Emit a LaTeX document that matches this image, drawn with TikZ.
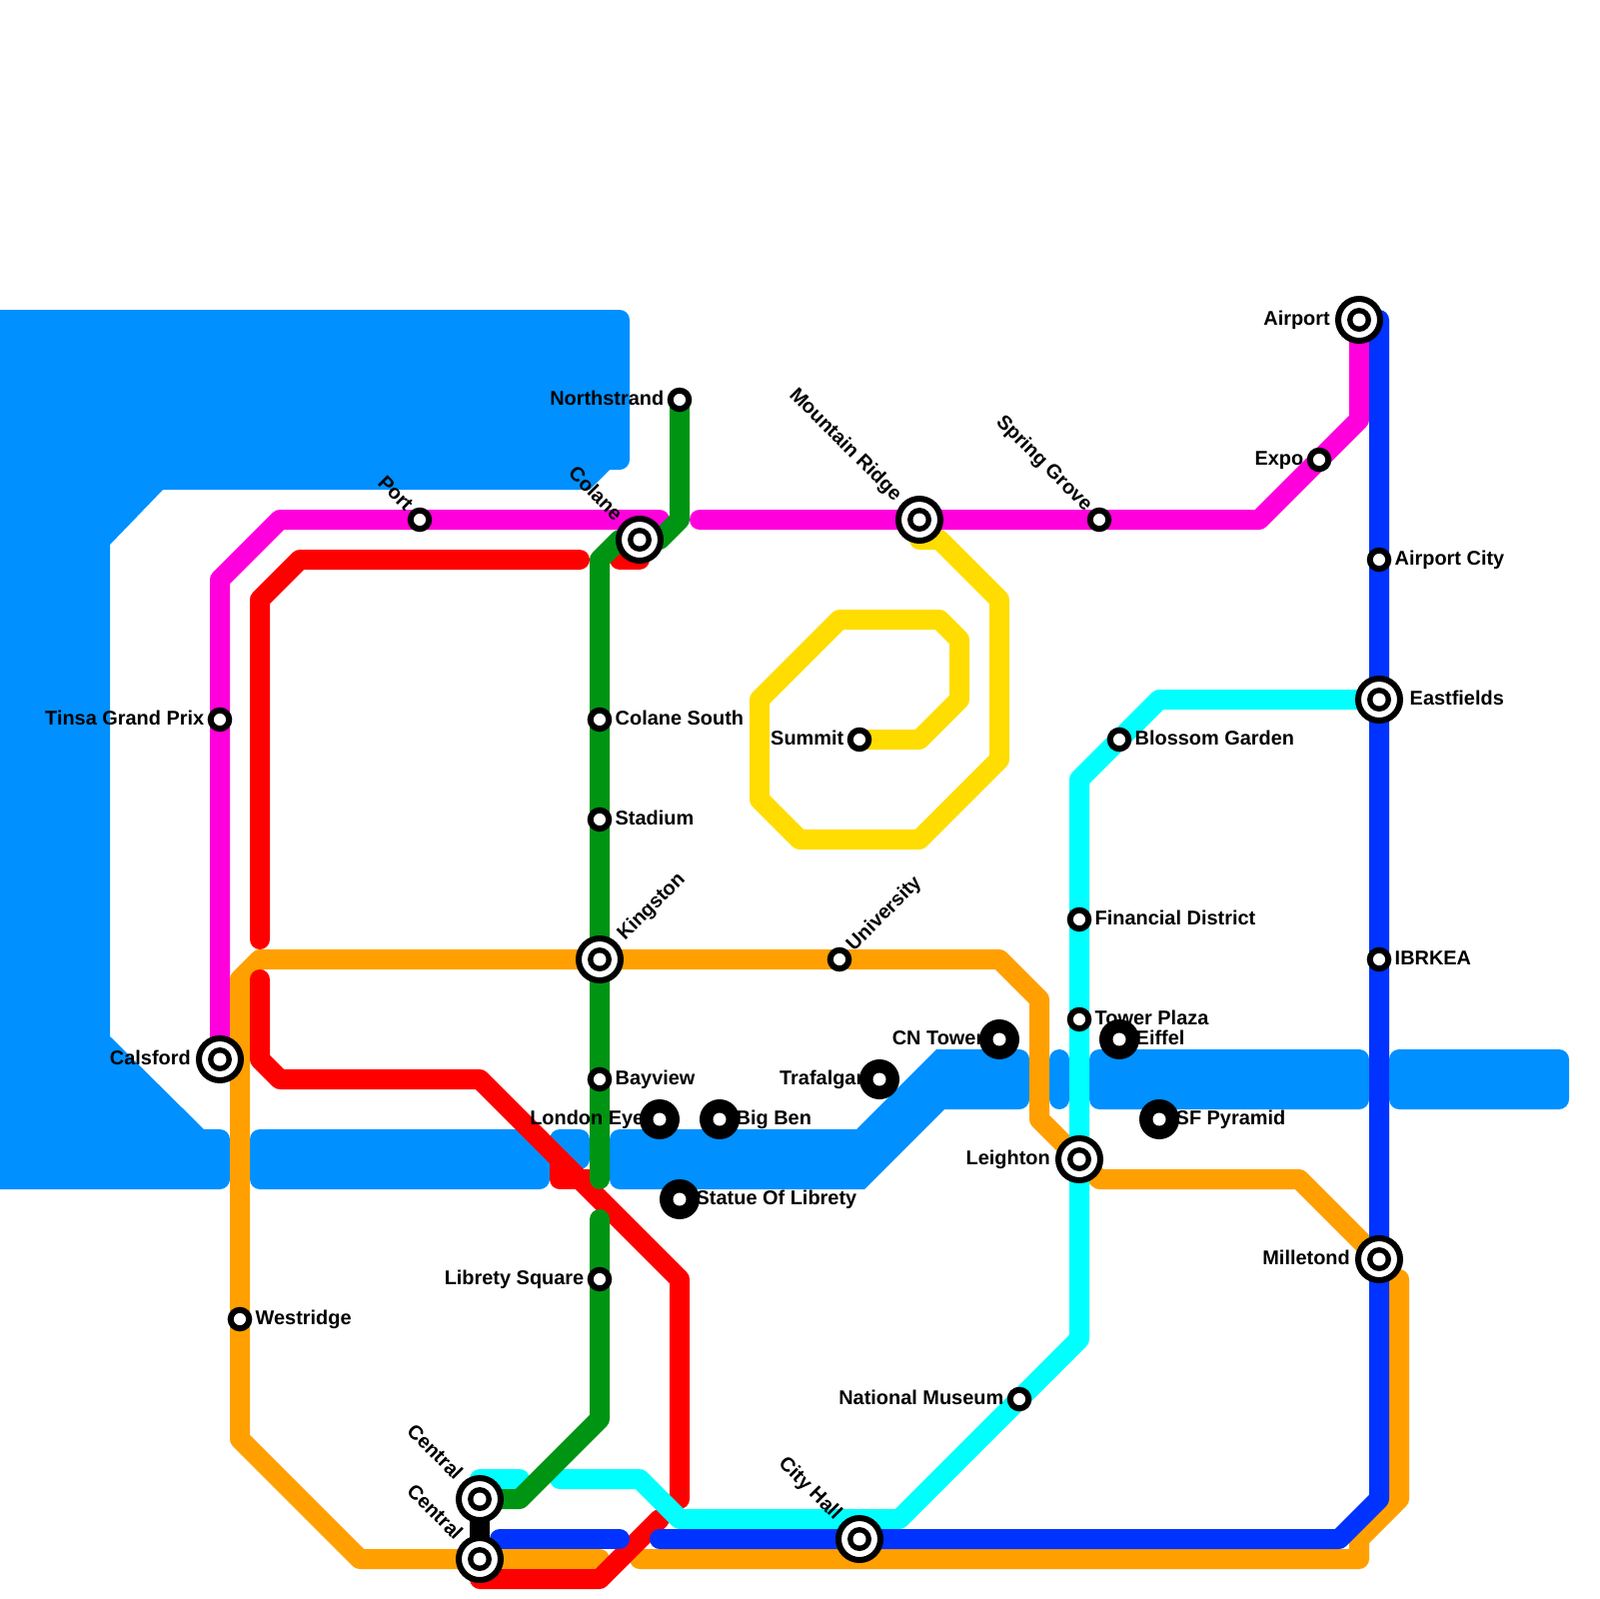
\documentclass[tikz,border=0pt]{standalone}
\usepackage{fontspec}
\setmainfont{Liberation Sans}
\usetikzlibrary{positioning,backgrounds}
\definecolor{waterblue}{HTML}{0090FF}
\definecolor{linepink}{HTML}{FF00DC}
\definecolor{linered}{HTML}{FF0000}
\definecolor{lineorange}{HTML}{FFA000}
\definecolor{linegreen}{HTML}{009413}
\definecolor{linecyan}{HTML}{00FFFF}
\definecolor{lineblue}{HTML}{0033FF}
\definecolor{lineyellow}{HTML}{FFDD00}
\begin{document}
\begin{tikzpicture}[
  x=0.1mm,y=-0.1mm,
  node distance=1.45mm and 1.5mm,
  water/.style={fill=waterblue},
  route/.style={line width=2mm,line cap=round,line join=round},
  stn/.style={circle,draw=black,line width=.6mm,fill=white,minimum size=1.85mm,inner sep=0},
  inter/.style={circle,draw=black,line width=.6mm,fill=white,minimum size=4.2mm,inner sep=0,
    path picture={\fill[black] (path picture bounding box.center) circle (1.2mm);
      \fill[white] (path picture bounding box.center) circle (.65mm);}},
  sight/.style={circle,fill=black,minimum size=4mm,inner sep=0,
    path picture={\fill[white] (path picture bounding box.center) circle (.65mm);}},
  txt/.style={font=\fontsize{5.67}{6}\selectfont\bfseries,inner sep=0,text height=1.5mm,text depth=.5mm},
  txtnw/.style={txt,rotate=-45,anchor=east},
  txtne/.style={txt,rotate=45,anchor=west}
]
\useasboundingbox (0,0) rectangle (1600,1600);
% stations
\node[inter] (calsford) at (220,1060) {};
\node[stn] (tinsa) at (220,720) {};
\node[stn] (westridge) at (240,1320) {};
\node[stn] (port) at (420,520) {};
\node[inter] (colane) at (640,540) {};
\node[stn] (northstrand) at (680,400) {};
\node[stn] (colanesouth) at (600,720) {};
\node[stn] (stadium) at (600,820) {};
\node[inter] (kingston) at (600,960) {};
\node[stn] (bayview) at (600,1080) {};
\node[stn] (librety) at (600,1280) {};
\node[sight] (londoneye) at (660,1120) {};
\node[sight] (bigben) at (720,1120) {};
\node[sight] (statue) at (680,1200) {};
\node[sight] (trafalgar) at (880,1080) {};
\node[sight] (cntower) at (1000,1040) {};
\node[sight] (eiffel) at (1120,1040) {};
\node[sight] (sfpyramid) at (1160,1120) {};
\node[stn] (university) at (840,960) {};
\node[inter] (mountain) at (920,520) {};
\node[stn] (summit) at (860,740) {};
\node[stn] (springgrove) at (1100,520) {};
\node[stn] (expo) at (1320,460) {};
\node[inter] (airport) at (1360,320) {};
\node[stn] (airportcity) at (1380,560) {};
\node[inter] (eastfields) at (1380,700) {};
\node[stn] (blossom) at (1120,740) {};
\node[stn] (financial) at (1080,920) {};
\node[stn] (towerplaza) at (1080,1020) {};
\node[stn] (ibrkea) at (1380,960) {};
\node[inter] (leighton) at (1080,1160) {};
\node[inter] (milletond) at (1380,1260) {};
\node[stn] (museum) at (1020,1400) {};
\node[inter] (cityhall) at (860,1540) {};
\node[inter] (centrala) at (480,1500) {};
\node[inter] (centralb) at (480,1560) {};
% labels
\node[txt,left=2.85mm of calsford.center] (calsfordtxt) {Calsford};
\node[txt,left=of tinsa.center] (tinsatxt) {Tinsa Grand Prix};
\node[txt,right=of westridge.center] (westridgetxt) {Westridge};
\node[txtnw] (porttxt) at ([shift={(135:1.5mm)}]port.center) {Port};
\node[txtnw] (colanetxt) at ([shift={(135:3mm)}]colane.center) {Colane};
\node[txt,left=of northstrand.center] (northstrandtxt) {Northstrand};
\node[txt,right=of colanesouth.center] (colanesouthtxt) {Colane South};
\node[txt,right=of stadium.center] (stadiumtxt) {Stadium};
\node[txtne] (kingstontxt) at ([shift={(45:3mm)}]kingston.center) {Kingston};
\node[txt,right=of bayview.center] (bayviewtxt) {Bayview};
\node[txt,left=of librety.center] (libretytxt) {Librety Square};
\node[txt,left=of londoneye.center] (londoneyetxt) {London Eye};
\node[txt,right=1.6mm of bigben.center] (bigbentxt) {Big Ben};
\node[txt,right=1.6mm of statue.center] (statuetxt) {Statue Of Librety};
\node[txt,left=of trafalgar.center] (trafalgartxt) {Trafalgar};
\node[txt,left=of cntower.center] (cntowertxt) {CN Tower};
\node[txt,right=1.6mm of eiffel.center] (eiffeltxt) {Eiffel};
\node[txt,right=1.6mm of sfpyramid.center] (sfpyramidtxt) {SF Pyramid};
\node[txtne] (universitytxt) at ([shift={(45:1.5mm)}]university.center) {University};
\node[txtnw] (mountaintxt) at ([shift={(135:3mm)}]mountain.center) {Mountain Ridge};
\node[txt,left=of summit.center] (summittxt) {Summit};
\node[txtnw] (springgrovetxt) at ([shift={(135:1.5mm)}]springgrove.center) {Spring Grove};
\node[txt,left=of expo.center] (expotxt) {Expo};
\node[txt,left=2.85mm of airport.center] (airporttxt) {Airport};
\node[txt,right=of airportcity.center] (airportcitytxt) {Airport City};
\node[txt,right=3mm of eastfields.center] (eastfieldstxt) {Eastfields};
\node[txt,right=of blossom.center] (blossomtxt) {Blossom Garden};
\node[txt,right=of financial.center] (financialtxt) {Financial District};
\node[txt,right=of towerplaza.center] (towerplazatxt) {Tower Plaza};
\node[txt,right=of ibrkea.center] (ibrkeatxt) {IBRKEA};
\node[txt,left=2.85mm of leighton.center] (leightontxt) {Leighton};
\node[txt,left=2.85mm of milletond.center] (milletondtxt) {Milletond};
\node[txt,left=of museum.center] (museumtxt) {National Museum};
\node[txtnw] (cityhalltxt) at ([shift={(135:3mm)}]cityhall.center) {City Hall};
\node[txtnw] (centralatxt) at ([shift={(135:3mm)}]centrala.center) {Central};
\node[txtnw] (centralbtxt) at ([shift={(135:3mm)}]centralb.center) {Central};
% free line ends
\coordinate (pinkend) at (660,520);
\coordinate (pinkstart) at (700,520);
\coordinate (redtop) at (580,560);
\coordinate (redlow) at (260,940);
\coordinate (redmid) at (260,980);
\coordinate (redstuba) at (620,560);
\coordinate (redstubb) at (640,560);
\coordinate (redfoot) at (660,1520);
\coordinate (redhead) at (680,1500);
\coordinate (greenend) at (600,1180);
\coordinate (greenstart) at (600,1220);
\coordinate (orangeend) at (1080,1160);
\coordinate (orangeleft) at (600,1560);
\coordinate (orangeright) at (640,1560);
\coordinate (cyanstart) at (560,1480);
\coordinate (blueleft) at (500,1540);
\coordinate (blueright) at (620,1540);
\coordinate (bluemid) at (660,1540);
\begin{scope}[on background layer]
% water
\fill[water] (0,310) [rounded corners=1mm] -- (630,310) -- (630,470) [sharp corners] -- (610,470) -- (590,490)
  -- (163,490) -- (110,545) -- (110,1037) -- (204,1130) [rounded corners=1mm] -- (230,1130) -- (230,1190) [sharp corners] -- (0,1190) -- cycle;
\fill[water,rounded corners=1mm] (250,1130) rectangle (550,1190);
\fill[water,rounded corners=1mm] (550,1130) rectangle (590,1170);
\fill[water,rounded corners=1mm] (610,1130) [sharp corners] -- (857,1130) -- (937,1050) [rounded corners=1mm] -- (1030,1050) -- (1030,1110) [sharp corners]
  -- (945,1110) -- (865,1190) [rounded corners=1mm] -- (610,1190) -- cycle;
\fill[water,rounded corners=1mm] (1050,1050) rectangle (1070,1110);
\fill[water,rounded corners=1mm] (1090,1050) rectangle (1370,1110);
\fill[water,rounded corners=1mm] (1390,1050) rectangle (1570,1110);
% lines
\draw[route,lineyellow] (summit.center) -- (920,740) -- (960,700) -- (960,640) -- (940,620) -- (840,620) -- (760,700) -- (760,800) -- (800,840) -- (920,840) -- (1000,760) -- (1000,600) -- (940,540) -- (920,540);
\draw[route,linepink] (calsford.center) -- (220,580) -- (280,520) -- (pinkend);
\draw[route,linepink] (pinkstart) -- (1260,520) -- (1360,420) -- (airport.center);
\draw[route,lineorange] (centralb.center) -- (360,1560) -- (240,1440) -- (240,980) -- (260,960) -- (1000,960) -- (1040,1000) -- (1040,1120) -- (orangeend);
\draw[route,lineorange] (centralb.center) -- (orangeleft);
\draw[route,lineorange] (leighton.center) -- (1100,1180) -- (1300,1180) -- (milletond.center);
\draw[route,lineorange] (1400,1280) -- (1400,1500) -- (1360,1540) -- (1360,1560) -- (orangeright);
\draw[route,linered] (redtop) -- (300,560) -- (260,600) -- (redlow);
\draw[route,linered] (redstuba) -- (redstubb);
\draw[route,linered] (redmid) -- (260,1060) -- (280,1080) -- (480,1080) -- (680,1280) -- (redhead);
\draw[route,linered] (560,1160) -- (560,1180) -- (590,1180);
\draw[route,linered] (redfoot) -- (600,1580) -- (480,1580);
\draw[route,linecyan] (centrala.center) -- (480,1480) -- (520,1480);
\draw[route,linecyan] (cyanstart) -- (640,1480) -- (680,1520) -- (900,1520) -- (1080,1340) -- (1080,780) -- (1160,700) -- (eastfields.center);
\draw[route,lineblue] (1380,320) -- (1380,1500) -- (1340,1540) -- (bluemid);
\draw[route,lineblue] (blueleft) -- (blueright);
\draw[route,linegreen] (northstrand.center) -- (680,520) -- (660,540) -- (620,540) -- (600,560) -- (greenend);
\draw[route,linegreen] (greenstart) -- (600,1420) -- (520,1500) -- (centrala.center);
\draw[route,black] (centrala.center) -- (centralb.center);
\end{scope}
\end{tikzpicture}
\end{document}
